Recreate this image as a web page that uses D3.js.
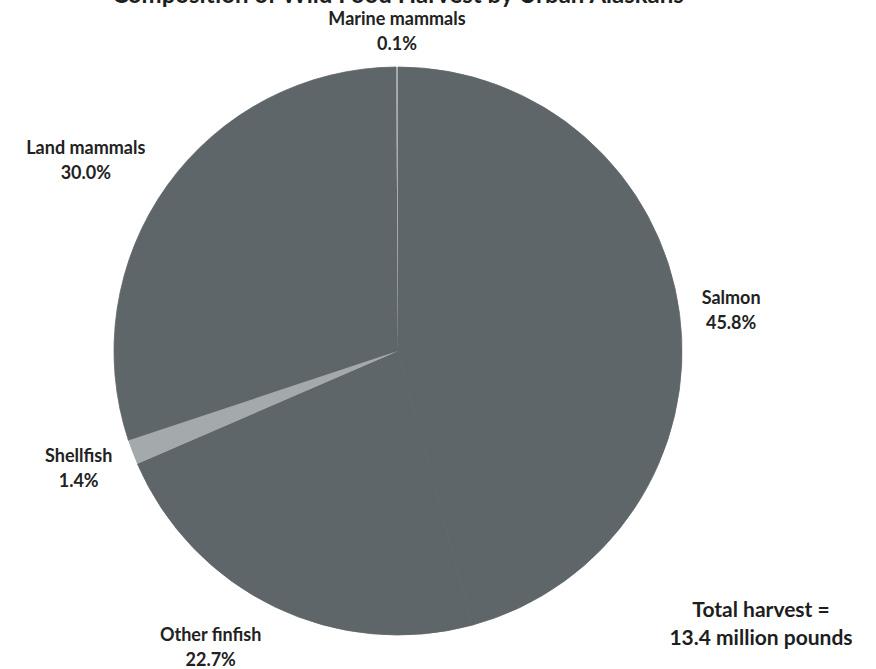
<!DOCTYPE html>
<html>
<head>
<meta charset="utf-8">
<script src="https://cdn.jsdelivr.net/npm/d3@7"></script>
<style>
  html, body { margin: 0; padding: 0; background: #ffffff; }
  svg { display: block; }
</style>
</head>
<body>
<svg id="chart" width="876" height="669"></svg>
<script>
// ---- data ----
const categories = ["Salmon", "Other finfish", "Shellfish", "Land mammals", "Marine mammals"];
const percentages = [45.8, 22.7, 1.4, 30.0, 0.1];
const percentLabels = ["45.8%", "22.7%", "1.4%", "30.0%", "0.1%"];
const titleText = "Composition of Wild Food Harvest by Urban Alaskans";
const totalLines = ["Total harvest =", "13.4 million pounds"];

// ---- layout ----
const W = 876, H = 669;
const cx = 398, cy = 351, radius = 284, labelRadius = 330;
const sliceColors = { "Shellfish": "#a4a9ac", "Marine mammals": "#a7acaf" };
const baseColor = "#5f666a";
// manual label nudges (the source chart's labels were hand-placed)
const labelNudge = {
  "Salmon": [6, 2], "Other finfish": [-44, -1], "Shellfish": [-11, -1],
  "Land mammals": [-44, 1], "Marine mammals": [0, 10]
};

const svg = d3.select("#chart");
const font = "Lato, 'Open Sans', sans-serif";

const rows = categories.map((c, i) => ({ name: c, value: percentages[i], label: percentLabels[i] }));

const pie = d3.pie().sort(null).value(d => d.value).startAngle(0).endAngle(2 * Math.PI);
const arc = d3.arc().innerRadius(0).outerRadius(radius);
const labelArc = d3.arc().innerRadius(labelRadius).outerRadius(labelRadius);

const g = svg.append("g").attr("transform", `translate(${cx},${cy})`);
const arcs = pie(rows);

g.selectAll("path.slice")
  .data(arcs)
  .join("path")
  .attr("class", "slice")
  .attr("d", arc)
  .attr("fill", d => sliceColors[d.data.name] || baseColor)
  .attr("stroke", d => sliceColors[d.data.name] ? "none" : baseColor)
  .attr("stroke-width", 0.8)
  .attr("stroke-linejoin", "round");

// redraw the light slices on top so the seam strokes don't cover them
g.selectAll("path.light")
  .data(arcs.filter(d => sliceColors[d.data.name]))
  .join("path")
  .attr("class", "light")
  .attr("d", arc)
  .attr("fill", d => sliceColors[d.data.name]);

// labels
const lab = g.selectAll("text.lbl")
  .data(arcs)
  .join("text")
  .attr("class", "lbl")
  .attr("text-anchor", "middle")
  .attr("font-family", font)
  .attr("font-weight", "bold")
  .attr("font-size", 18)
  .attr("fill", "#222222")
  .attr("transform", d => {
    const [x, y] = labelArc.centroid(d);
    const n = labelNudge[d.data.name] || [0, 0];
    return `translate(${x + n[0]},${y + n[1]})`;
  });
lab.append("tspan").attr("x", 0).attr("y", -6).text(d => d.data.name);
lab.append("tspan").attr("x", 0).attr("y", 19).text(d => d.data.label);

// title (partly cut off at top in the source)
svg.append("text")
  .attr("x", 398).attr("y", 3)
  .attr("text-anchor", "middle")
  .attr("font-family", font)
  .attr("font-weight", "bold")
  .attr("font-size", 24)
  .attr("fill", "#1e1e1e")
  .text(titleText);

// total annotation
const tot = svg.append("text")
  .attr("text-anchor", "middle")
  .attr("font-family", font)
  .attr("font-weight", "bold")
  .attr("font-size", 21)
  .attr("fill", "#1e1e1e");
tot.selectAll("tspan").data(totalLines).join("tspan")
  .attr("x", 761)
  .attr("y", (d, i) => 617 + i * 28)
  .text(d => d);
</script>
</body>
</html>
